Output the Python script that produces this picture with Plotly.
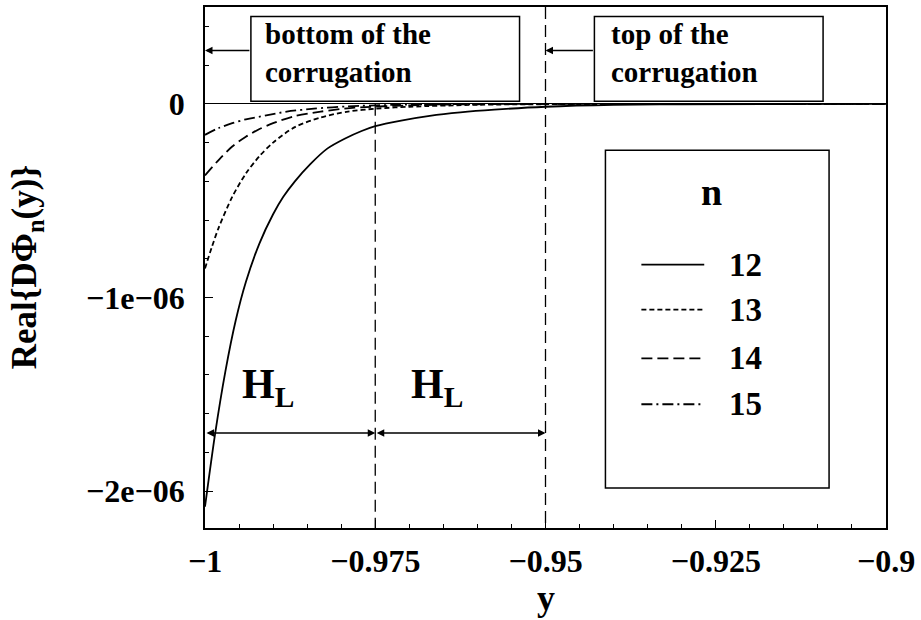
import plotly.graph_objects as go

# ---- data (y values in units of 1e-6) ----
x_n12 = [-1.000, -0.9985, -0.997, -0.9955, -0.994, -0.992, -0.990, -0.9885, -0.9868, -0.9845,
         -0.982, -0.9795, -0.977, -0.975, -0.971, -0.967, -0.9625, -0.9575, -0.950, -0.940, -0.930, -0.900]
y_n12 = [-2.08, -1.70, -1.38, -1.12, -0.92, -0.72, -0.57, -0.48, -0.40, -0.31,
         -0.23, -0.18, -0.14, -0.115, -0.085, -0.062, -0.044, -0.03, -0.015, -0.005, -0.002, 0.0]

x_n13 = [-1.000, -0.999, -0.998, -0.996, -0.994, -0.992, -0.990, -0.9868, -0.983, -0.979,
         -0.975, -0.970, -0.960, -0.950, -0.900]
y_n13 = [-0.85, -0.74, -0.64, -0.48, -0.36, -0.27, -0.20, -0.12, -0.07, -0.04,
         -0.025, -0.015, -0.005, -0.002, 0.0]

x_n14 = [-1.000, -0.998, -0.996, -0.994, -0.992, -0.990, -0.987, -0.983, -0.978, -0.970, -0.960, -0.900]
y_n14 = [-0.37, -0.29, -0.22, -0.17, -0.13, -0.10, -0.065, -0.04, -0.02, -0.008, -0.002, 0.0]

x_n15 = [-1.000, -0.998, -0.996, -0.994, -0.991, -0.988, -0.984, -0.979, -0.972, -0.960, -0.900]
y_n15 = [-0.16, -0.125, -0.10, -0.08, -0.06, -0.04, -0.025, -0.013, -0.005, -0.001, 0.0]

series_names = ["12", "13", "14", "15"]
series_dash = ["solid", "5px,3px", "11px,5px", "11px,4px,2px,4px"]

x_ticks = [-1.0, -0.975, -0.95, -0.925, -0.9]
x_tick_text = ["\u22121", "\u22120.975", "\u22120.95", "\u22120.925", "\u22120.9"]
y_ticks = [0.0, -1e-6, -2e-6]
y_tick_text = ["0", "\u22121e\u221206", "\u22122e\u221206"]

x_bottom = -1.0      # bottom of the corrugation
x_mid = -0.975
x_top = -0.95        # top of the corrugation

SERIF = "Liberation Serif"
E = 1e-6

fig = go.Figure()
xs = [x_n12, x_n13, x_n14, x_n15]
ys = [y_n12, y_n13, y_n14, y_n15]
for xv, yv, nm, ds in zip(xs, ys, series_names, series_dash):
    fig.add_trace(go.Scatter(
        x=xv, y=[v * E for v in yv], mode="lines", name=nm,
        line=dict(color="black", width=1.8, dash=ds, shape="spline", smoothing=0.8),
        showlegend=False, hoverinfo="skip"))

Y_MIN, Y_MAX = -2.19e-6, 0.5e-6

shapes = []
# dashed vertical guide lines
shapes.append(dict(type="line", xref="x", yref="y", x0=x_mid, x1=x_mid, y0=0, y1=Y_MIN,
                   line=dict(color="black", width=1.3, dash="12px,6px")))
shapes.append(dict(type="line", xref="x", yref="y", x0=x_top, x1=x_top, y0=Y_MAX, y1=Y_MIN,
                   line=dict(color="black", width=1.3, dash="12px,6px")))

# label boxes
box_y0, box_y1 = 0.014 * E, 0.451 * E
shapes.append(dict(type="rect", xref="x", yref="y", x0=-0.99326, x1=-0.95381, y0=box_y0, y1=box_y1,
                   line=dict(color="black", width=1.5), fillcolor="white"))
shapes.append(dict(type="rect", xref="x", yref="y", x0=-0.94282, x1=-0.90924, y0=box_y0, y1=box_y1,
                   line=dict(color="black", width=1.5), fillcolor="white"))

# legend box
shapes.append(dict(type="rect", xref="x", yref="y", x0=-0.94120, x1=-0.90836, y0=-0.239 * E, y1=-1.983 * E,
                   line=dict(color="black", width=1.5), fillcolor="white"))
leg_rows = [-0.830 * E, -1.062 * E, -1.314 * E, -1.551 * E]
for ry, ds in zip(leg_rows, series_dash):
    shapes.append(dict(type="line", xref="x", yref="y", x0=-0.93592, x1=-0.92669, y0=ry, y1=ry,
                       line=dict(color="black", width=1.8, dash=ds)))

annotations = []
bold = dict(family=SERIF, size=29, color="black", weight="bold")

annotations.append(dict(x=-0.99150, y=0.26 * E, xref="x", yref="y", xanchor="left", yanchor="middle",
                        align="left", showarrow=False, text="bottom of the<br>corrugation", font=bold))
annotations.append(dict(x=-0.94062, y=0.26 * E, xref="x", yref="y", xanchor="left", yanchor="middle",
                        align="left", showarrow=False, text="top of the<br>corrugation", font=bold))

# pointer arrows from the boxes
arrow_y = 0.276 * E
annotations.append(dict(x=x_bottom, y=arrow_y, ax=-0.99326, ay=arrow_y, xref="x", yref="y",
                        axref="x", ayref="y", text="", showarrow=True, arrowhead=2,
                        arrowsize=1, arrowwidth=1.5, arrowcolor="black"))
annotations.append(dict(x=x_top, y=arrow_y, ax=-0.94282, ay=arrow_y, xref="x", yref="y",
                        axref="x", ayref="y", text="", showarrow=True, arrowhead=2,
                        arrowsize=1, arrowwidth=1.5, arrowcolor="black"))

# H_L spans
hl_y = -1.70 * E
hl_label_x = [-0.99076, -0.96598]
for (a, b), lx in zip([(x_bottom, x_mid), (x_mid, x_top)], hl_label_x):
    annotations.append(dict(x=b, y=hl_y, ax=a, ay=hl_y, xref="x", yref="y", axref="x", ayref="y",
                            text="", showarrow=True, arrowhead=2, startarrowhead=2, arrowside="end+start",
                            arrowsize=1, arrowwidth=1.5, arrowcolor="black"))
    annotations.append(dict(x=lx, y=-1.46 * E, xref="x", yref="y", showarrow=False,
                            xanchor="center", yanchor="middle",
                            text="H<sub>L</sub>", font=dict(family=SERIF, size=42, color="black", weight="bold")))

# legend text
annotations.append(dict(x=-0.92566, y=-0.455 * E, xref="x", yref="y", showarrow=False, text="n",
                        font=dict(family=SERIF, size=38, color="black", weight="bold")))
for ry, nm in zip(leg_rows, series_names):
    annotations.append(dict(x=-0.92331, y=ry, xref="x", yref="y", xanchor="left", yanchor="middle",
                            showarrow=False, text=nm,
                            font=dict(family=SERIF, size=33, color="black", weight="bold")))

# axis titles
annotations.append(dict(x=-0.261, y=0.501, xref="paper", yref="paper", showarrow=False, textangle=-90,
                        xanchor="center", yanchor="middle",
                        text="Real{D\u03a6<sub>n</sub>(y)}",
                        font=dict(family=SERIF, size=35, color="black", weight="bold")))
annotations.append(dict(x=0.5, y=-0.1338, xref="paper", yref="paper", showarrow=False, text="y",
                        xanchor="center", yanchor="middle",
                        font=dict(family=SERIF, size=36, color="black", weight="bold")))

axis_common = dict(showgrid=False, showline=True, linecolor="black", linewidth=1.8, mirror=True,
                   ticks="inside", tickcolor="black", tickwidth=1.3,
                   tickfont=dict(family=SERIF, size=32, color="black", weight="bold"))

fig.update_layout(
    width=921, height=620,
    margin=dict(l=205, r=35, t=5, b=92),
    paper_bgcolor="white", plot_bgcolor="white",
    xaxis=dict(range=[-1.0, -0.9], tickvals=x_ticks, ticktext=x_tick_text, ticklen=8,
               ticklabelstandoff=4,
               minor=dict(dtick=0.005, tick0=-1.0, ticks="inside", ticklen=4, tickcolor="black"),
               zeroline=False, **axis_common),
    yaxis=dict(range=[Y_MIN, Y_MAX], tickvals=y_ticks, ticktext=y_tick_text, ticklen=8,
               ticklabelstandoff=12,
               minor=dict(dtick=0.2e-6, tick0=0, ticks="inside", ticklen=4, tickcolor="black"),
               zeroline=True, zerolinecolor="black", zerolinewidth=1.3, **axis_common),
    shapes=shapes, annotations=annotations,
)

fig.write_html("out.html")
